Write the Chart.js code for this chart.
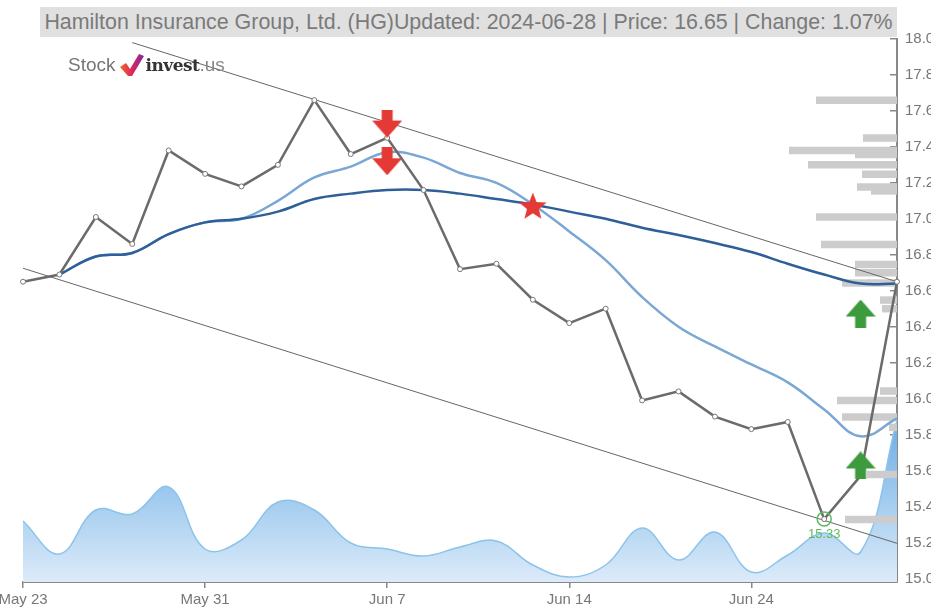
<!DOCTYPE html>
<html lang="en">
<head>
<meta charset="UTF-8">
<title>HG chart</title>
<script src="https://cdn.jsdelivr.net/npm/chart.js"></script>
<style>
  body { margin:0; width:931px; height:608px; overflow:hidden; background:#fff; position:relative;
         font-family:'Liberation Sans', Arial, sans-serif; }
  #wrap { position:absolute; left:0; top:0; width:960px; height:608px; }
  #title { position:absolute; left:40px; top:7px; width:857px; height:30px; background:#e0e0e0;
           color:#7a7a7a; font-size:21.4px; line-height:30px; text-align:center; white-space:nowrap; }
  #logo { position:absolute; left:68px; top:53px; height:24px; display:flex; align-items:center;
          font-size:19px; }
  #logo .s { color:#777; margin-right:2px; }
  #logo .i { color:#333; font-weight:bold; font-family:'DejaVu Serif', serif; font-size:17px; letter-spacing:-0.5px; }
  #logo .u { color:#888; }
</style>
</head>
<body>
<div id="wrap"><canvas id="myChart" width="960" height="608"></canvas></div>
<div id="title">Hamilton Insurance Group, Ltd. (HG)Updated: 2024-06-28 | Price: 16.65 | Change: 1.07%</div>
<div id="logo">
  <span class="s">Stock</span>
  <svg width="28" height="24" viewBox="0 0 28 24">
    <defs><linearGradient id="lg" x1="0" x2="1"><stop offset="0" stop-color="#f26b21"/><stop offset="0.5" stop-color="#e0245e"/><stop offset="1" stop-color="#7b2a9b"/></linearGradient></defs>
    <polygon points="2,14 8,10 12,16 21,1 26,3 14,23 10,23" fill="url(#lg)"/>
  </svg>
  <span class="i">invest</span><span class="u">.us</span>
</div>

<script>
// trading days
const dates = ['May 23','May 24','May 28','May 29','May 30','May 31','Jun 3','Jun 4','Jun 5','Jun 6','Jun 7',
  'Jun 10','Jun 11','Jun 12','Jun 13','Jun 14','Jun 17','Jun 18','Jun 20','Jun 21','Jun 24','Jun 25','Jun 26','Jun 27','Jun 28'];
const xTickLabels = ['May 23','May 31','Jun 7','Jun 14','Jun 24'];
const yTickLabels = [15.0,15.2,15.4,15.6,15.8,16.0,16.2,16.4,16.6,16.8,17.0,17.2,17.4,17.6,17.8,18.0];

const prices = [16.65,16.69,17.01,16.86,17.38,17.25,17.18,17.30,17.66,17.36,17.45,17.16,16.72,16.75,16.55,
  16.42,16.50,15.99,16.04,15.90,15.83,15.87,15.33,15.57,16.65];
const maShort = [null,16.69,16.79,16.81,16.915,16.98,17.00,17.10,17.23,17.29,17.37,17.34,17.255,17.20,17.08,
  16.93,16.77,16.565,16.40,16.29,16.19,16.09,15.94,15.79,15.89];
const maLong = [null,16.69,16.79,16.81,16.915,16.98,17.00,17.04,17.11,17.14,17.16,17.16,17.14,17.11,17.08,
  17.04,17.00,16.95,16.91,16.865,16.815,16.75,16.69,16.64,16.64];
// volume, thousand shares
const volume = [61,28,72,68,95,33,42,80,72,39,33,26,35,41,17,5,17,54,22,50,10,27,49,30,162];

// trend channel end points [index, price]
const upperTrend = [[3,17.98],[24,16.65]];
const lowerTrend = [[0,16.725],[24,15.195]];

// volume profile by price
const profilePrices = [17.66,17.45,17.38,17.358,17.30,17.248,17.177,17.155,17.01,16.857,16.746,16.70,16.643,
  16.548,16.50,16.042,15.99,15.898,15.84,15.578,15.327];
const profileVolume = [81,34,108,42,89,35,40,26,81,76,42,42,55,17,15,17,60,55,8,30,52];

// signals [index, price level]
const sellSignals = [[10,17.53],[10,17.32]];
const buySignals = [[23,16.473],[23,15.628]];
const crossSignals = [[14,17.071]];
const lowPoint = [22,15.33];

function atIndex(pairs){
  const arr = dates.map(() => null);
  pairs.forEach(p => { arr[p[0]] = p[1]; });
  return arr;
}
const asPoints = (pairs) => pairs.map(p => ({x: dates[p[0]], y: p[1]}));

function arrowImg(color, down){
  const c = document.createElement('canvas');
  c.width = 30; c.height = 28;
  const g = c.getContext('2d');
  g.fillStyle = color;
  g.beginPath();
  if (down) {
    g.moveTo(9.5,0); g.lineTo(20.5,0); g.lineTo(20.5,11); g.lineTo(30,11);
    g.lineTo(15,28); g.lineTo(0,11); g.lineTo(9.5,11);
  } else {
    g.moveTo(15,0); g.lineTo(30,17); g.lineTo(20.5,17); g.lineTo(20.5,28);
    g.lineTo(9.5,28); g.lineTo(9.5,17); g.lineTo(0,17);
  }
  g.closePath(); g.fill();
  return c;
}
function starImg(color){
  const c = document.createElement('canvas');
  c.width = 30; c.height = 30;
  const g = c.getContext('2d');
  g.fillStyle = color;
  g.beginPath();
  for (let k = 0; k < 10; k++) {
    const r = k % 2 ? 6.2 : 14.5;
    const a = -Math.PI/2 + k*Math.PI/5;
    g.lineTo(15 + r*Math.cos(a), 16 + r*Math.sin(a));
  }
  g.closePath(); g.fill();
  return c;
}

const red = '#e53935', green = '#3d9a3d';

const markerSet = (pairs, style) => ({
  data: asPoints(pairs), showLine:false, pointStyle: style, pointRadius: 15, borderWidth:0
});

const lowLabel = {
  id: 'lowLabel',
  afterDatasetsDraw(chart){
    const meta = chart.getDatasetMeta(3);
    const pt = meta.data[0];
    const c = chart.ctx;
    c.save();
    c.fillStyle = 'rgb(95,185,95)';
    c.font = '13px "Liberation Sans", Arial, sans-serif';
    c.textAlign = 'center';
    c.textBaseline = 'middle';
    c.fillText(lowPoint[1].toFixed(2), pt.x, pt.y + 15);
    c.restore();
  }
};

const profileSets = profilePrices.map((p, i) => ({
  xAxisID: 'xp',
  data: [{x:0, y:p}, {x:profileVolume[i], y:p}],
  borderColor: 'rgb(204,204,204)', borderWidth: 7.5, borderCapStyle:'butt',
  pointRadius: 0, tension: 0
}));

const ctx = document.getElementById('myChart');
new Chart(ctx, {
  type: 'line',
  data: {
    labels: dates,
    datasets: [
      markerSet(sellSignals, arrowImg(red, true)),
      markerSet(buySignals, arrowImg(green, false)),
      markerSet(crossSignals, starImg(red)),
      { data: asPoints([lowPoint]), showLine:false, pointStyle:'circle', pointRadius:7,
        borderColor:'rgb(95,185,95)', borderWidth:1.5, backgroundColor:'rgba(0,0,0,0)' },
      { data: prices, borderColor:'#6b6b6b', borderWidth:2.5, tension:0,
        pointRadius:2.5, pointBackgroundColor:'#fff', pointBorderColor:'#777', pointBorderWidth:1 },
      { data: maLong, borderColor:'#2f5f98', borderWidth:2.5, tension:0.4, pointRadius:0 },
      { data: maShort, borderColor:'#7aa7d4', borderWidth:2.5, tension:0.4, pointRadius:0 },
      { data: atIndex(upperTrend), spanGaps:true, borderColor:'#666', borderWidth:1, pointRadius:0 },
      { data: atIndex(lowerTrend), spanGaps:true, borderColor:'#666', borderWidth:1, pointRadius:0 },
      ...profileSets,
      { yAxisID:'yv', data: volume, fill:'origin', tension:0.4, pointRadius:0,
        borderColor:'rgb(140,195,235)', borderWidth:1.5,
        backgroundColor: (c) => {
          const area = c.chart.chartArea;
          if (!area) return 'rgba(160,205,237,0.8)';
          const g = c.chart.ctx.createLinearGradient(0, area.bottom, 0, area.bottom - 165);
          g.addColorStop(0, 'rgb(220,235,249)');
          g.addColorStop(1, 'rgb(105,172,228)');
          return g;
        } }
    ]
  },
  options: {
    animation: false,
    responsive: false,
    events: [],
    layout: { padding: { left:23, top:39, right:0, bottom:0 } },
    plugins: { legend:{display:false}, tooltip:{enabled:false} },
    scales: {
      x: {
        offset: false,
        afterFit: (s) => { s.paddingLeft = 0; s.paddingRight = 0; s.height = 26; },
        ticks: {
          autoSkip: false, maxRotation: 0, color:'#777', font:{size:15}, padding:3,
          callback: function(v){ const l = this.getLabelForValue(v); return xTickLabels.includes(l) ? l : null; }
        },
        grid: { drawOnChartArea:false, tickLength:6, color:'#888', lineWidth:1.5 },
        border: { color:'#888', width:2 }
      },
      xp: { type:'linear', display:false, reverse:true, min:0, max:874 },
      y: {
        position:'right', min:14.98, max:18.0,
        afterBuildTicks: (s) => { s.ticks = yTickLabels.map(v => ({value:v})); },
        afterFit: (s) => { s.width = 63; s.paddingTop = 0; s.paddingBottom = 0; },
        ticks: { color:'#777', font:{size:15}, padding:15, callback: (v) => Number(v).toFixed(1) },
        grid: { drawOnChartArea:false, tickLength:-7, color:'#888', lineWidth:1.5 },
        border: { color:'#888', width:2 }
      },
      yv: { display:false, min:0, max:543 }
    }
  },
  plugins: [lowLabel]
});
</script>
</body>
</html>
